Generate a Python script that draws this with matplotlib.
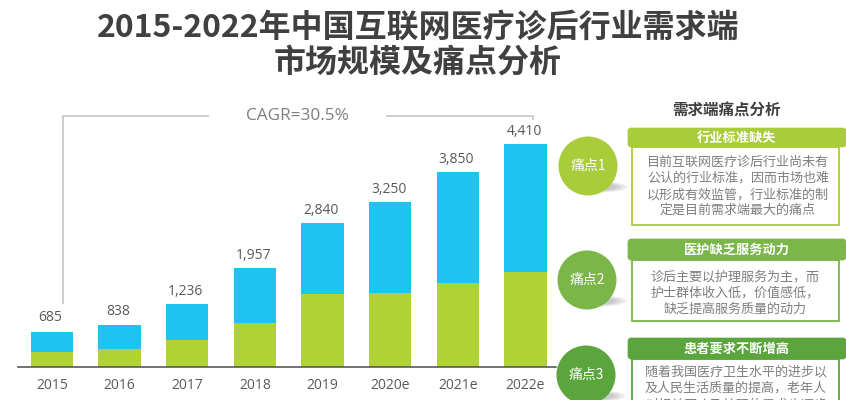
import matplotlib
matplotlib.use('Agg')
import matplotlib.pyplot as plt
from matplotlib.patches import Circle, FancyBboxPatch, Rectangle, Ellipse

plt.rcParams['font.family'] = ['Noto Sans CJK SC', 'DejaVu Sans']

# Datos
years = ['2015', '2016', '2017', '2018', '2019', '2020e', '2021e', '2022e']
totals = [685, 838, 1236, 1957, 2840, 3250, 3850, 4410]
green_part = [298, 357, 536, 873, 1448, 1468, 1667, 1885]
blue_part = [t - g for t, g in zip(totals, green_part)]

GREEN = '#b0d235'
BLUE = '#1fc3ef'
TEXT = '#595959'
LATIN = ['Open Sans', 'DejaVu Sans']

panel_titles = ['行业标准缺失', '医护缺乏服务动力', '患者要求不断增高']
panel_labels = ['痛点1', '痛点2', '痛点3']
panel_bodies = [
    ['目前互联网医疗诊后行业尚未有', '公认的行业标准，因而市场也难', '以形成有效监管，行业标准的制', '定是目前需求端最大的痛点'],
    ['诊后主要以护理服务为主，而', '护士群体收入低，价值感低，', '缺乏提高服务质量的动力'],
    ['随着我国医疗卫生水平的进步以', '及人民生活质量的提高，老年人', '对相关医疗及护理的需求也逐步'],
]
panel_colors = ['#a9cc3a', '#7ab648', '#5aa53c']

fig = plt.figure(figsize=(8.46, 4.0), dpi=100)

# Capa de fondo en pixeles
bg = fig.add_axes([0, 0, 1, 1])
bg.set_xlim(0, 846)
bg.set_ylim(400, 0)
bg.axis('off')

# Titulo
bg.text(418, 28, '2015-2022年中国互联网医疗诊后行业需求端', ha='center', va='center',
        fontsize=23, fontweight='bold', color='#404040')
bg.text(418, 63, '市场规模及痛点分析', ha='center', va='center',
        fontsize=23, fontweight='bold', color='#404040')

# Linea CAGR
bg.plot([63, 63, 208], [303, 116, 116], color='#c8c8c8', lw=1.3)
bg.plot([387, 533, 533], [116, 116, 119], color='#c8c8c8', lw=1.3)
bg.text(297, 116, 'CAGR=30.5%', ha='center', va='center', fontsize=12.4, color='#7f7f7f',
        family=LATIN)

# Barras
ax = fig.add_axes([18 / 846, (400 - 367) / 400, (556 - 18) / 846, (367 - 130) / 400])
x = list(range(len(years)))
ax.bar(x, green_part, width=0.625, color=GREEN)
ax.bar(x, blue_part, width=0.625, bottom=green_part, color=BLUE)
for i, t in enumerate(totals):
    # el primero queda algo mas alto en el original
    extra = 50 if i == 0 else 0
    ax.text(i - 0.02, t + 250 + extra, f'{t:,}', ha='center', va='center', fontsize=10, color=TEXT,
            family=LATIN)
ax.set_xlim(-0.5, 7.45)
ax.set_ylim(0, 4680)
ax.set_xticks(x)
ax.set_xticklabels(years, fontsize=10, color=TEXT, family=LATIN)
ax.tick_params(axis='x', length=0, pad=8)
ax.set_yticks([])
ax.patch.set_alpha(0)
for s in ['top', 'left', 'right']:
    ax.spines[s].set_visible(False)
ax.spines['bottom'].set_color('#595959')
ax.spines['bottom'].set_linewidth(1.2)

# Panel derecho
fg = fig.add_axes([0, 0, 1, 1])
fg.set_xlim(0, 846)
fg.set_ylim(400, 0)
fg.axis('off')
fg.text(726, 111, '需求端痛点分析', ha='center', va='center', fontsize=11.2, fontweight='bold', color='#404040')

circle_x = [588, 587, 586]
circle_y = [166, 280, 375]
head_y = [128, 239, 338]
head_h = [19, 21, 21]
box_y = [147, 260, 359]
box_h = [78, 61, 60]
line_y = [[162, 178, 195, 210], [277, 293, 309], [372, 388, 405]]
text_x = [738, 735, 736]

for k in range(3):
    c = panel_colors[k]
    # sombra difusa
    for w, a in zip([58, 48, 38], [0.25, 0.3, 0.35]):
        fg.add_patch(Ellipse((circle_x[k] + 10, circle_y[k] + 21), w, 11 * w / 58, color='#b0b0b0', alpha=a, lw=0, zorder=1))
    fg.add_patch(Circle((circle_x[k], circle_y[k]), 29.5, color=c, lw=0, zorder=2))
    fg.text(circle_x[k], circle_y[k], panel_labels[k], ha='center', va='center',
            fontsize=10, color='white', zorder=3)
    fg.add_patch(Rectangle((632, box_y[k]), 207, box_h[k], fc='white', ec=c, lw=1.3, zorder=2))
    fg.add_patch(FancyBboxPatch((628, head_y[k]), 218, head_h[k], boxstyle='round,pad=0,rounding_size=3',
                                fc=c, ec=c, lw=0.5, zorder=3))
    fg.text(737, head_y[k] + head_h[k] / 2, panel_titles[k], ha='center', va='center', fontsize=9.5,
            fontweight='bold', color='white', zorder=4)
    for txt, y in zip(panel_bodies[k], line_y[k]):
        fg.text(text_x[k], y, txt, ha='center', va='center', fontsize=9.4, color='#7f7f7f', zorder=4)

fig.savefig('out.png', dpi=100)
